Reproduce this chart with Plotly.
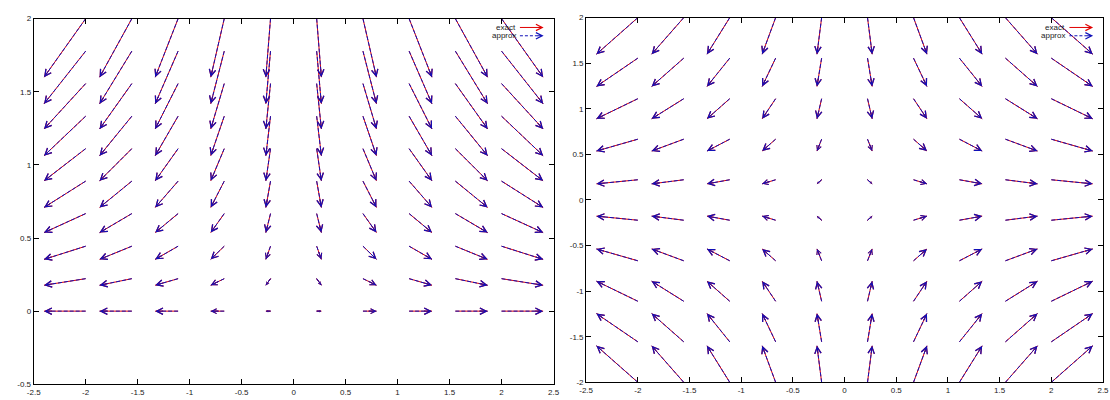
import math
import plotly.graph_objects as go

W, H = 1110, 400

# ---- data ----
x_cols = [-2.0, -1.556, -1.111, -0.667, -0.222, 0.222, 0.667, 1.111, 1.556, 2.0]
left_y_rows = [0.0, 0.222, 0.444, 0.667, 0.889, 1.111, 1.333, 1.556, 1.778, 2.0]
right_y_rows = [-2.0, -1.556, -1.111, -0.667, -0.222, 0.222, 0.667, 1.111, 1.556, 2.0]

# horizontal component per column, vertical component per row
left_exact_dx = [-0.40, -0.31, -0.22, -0.13, -0.045, 0.045, 0.13, 0.22, 0.31, 0.40]
left_exact_dy = [0.0, -0.045, -0.09, -0.13, -0.18, -0.22, -0.27, -0.31, -0.36, -0.40]
left_approx_dx = [-0.40, -0.31, -0.22, -0.13, -0.045, 0.045, 0.13, 0.22, 0.31, 0.40]
left_approx_dy = [0.0, -0.045, -0.09, -0.13, -0.18, -0.22, -0.27, -0.31, -0.36, -0.40]

right_exact_dx = [-0.40, -0.31, -0.22, -0.13, -0.045, 0.045, 0.13, 0.22, 0.31, 0.40]
right_exact_dy = [0.40, 0.31, 0.22, 0.13, 0.045, -0.045, -0.13, -0.22, -0.31, -0.40]
right_approx_dx = [-0.40, -0.31, -0.22, -0.13, -0.045, 0.045, 0.13, 0.22, 0.31, 0.40]
right_approx_dy = [0.40, 0.31, 0.22, 0.13, 0.045, -0.045, -0.13, -0.22, -0.31, -0.40]

x_ticks = [-2.5, -2, -1.5, -1, -0.5, 0, 0.5, 1, 1.5, 2, 2.5]
x_ticktext = ["-2.5", "-2", "-1.5", "-1", "-0.5", "0", "0.5", "1", "1.5", "2", "2.5"]
left_y_ticks = [-0.5, 0, 0.5, 1, 1.5, 2]
left_y_ticktext = ["-0.5", "0", "0.5", "1", "1.5", "2"]
right_y_ticks = [-2, -1.5, -1, -0.5, 0, 0.5, 1, 1.5, 2]
right_y_ticktext = ["-2", "-1.5", "-1", "-0.5", "0", "0.5", "1", "1.5", "2"]

series_names = ["exact", "approx"]

RED = "#e00000"
BLUE = "#1010b8"
FONT = "Liberation Sans"

# layout (pixels) of the two panels
LEFT_X_DOM = (27, 553)
LEFT_Y_DOM = (11, 385)
LEFT_XR, LEFT_YR = (-2.5, 2.5), (-0.5, 2)
RIGHT_X_DOM = (586, 1109)
RIGHT_Y_DOM = (13, 386)
RIGHT_XR, RIGHT_YR = (-2.5, 2.5), (-2, 2)

HEAD_SIZE = 1.25

fig = go.Figure()
annotations = []


def head(x, y, ax, ay, xref, yref, color, axref=None, ayref=None, size=HEAD_SIZE):
    d = dict(
        x=x, y=y, ax=ax, ay=ay, xref=xref, yref=yref,
        text="", showarrow=True, arrowhead=5, arrowsize=size,
        arrowwidth=1, arrowcolor=color, borderpad=0, borderwidth=0,
        font=dict(size=1), standoff=0, startstandoff=0,
    )
    if axref:
        d["axref"] = axref
        d["ayref"] = ayref
    return d


def add_field(xs, ys, dxs, dys, xa, ya, color, dash, xdom, ydom, xr, yr):
    px_x = (xdom[1] - xdom[0]) / (xr[1] - xr[0])
    px_y = (ydom[1] - ydom[0]) / (yr[1] - yr[0])
    sx, sy = [], []
    for i, x0 in enumerate(xs):
        for j, y0 in enumerate(ys):
            sx += [x0, x0 + dxs[i], None]
            sy += [y0, y0 + dys[j], None]
    fig.add_trace(go.Scatter(
        x=sx, y=sy, mode="lines",
        line=dict(color=color, width=1, dash=dash),
        xaxis=xa, yaxis=ya, hoverinfo="skip", showlegend=False,
    ))
    for i, x0 in enumerate(xs):
        for j, y0 in enumerate(ys):
            length = math.hypot(dxs[i] * px_x, dys[j] * px_y)
            f = 0.0 if length < 12 else 1 - 8 / length
            size = HEAD_SIZE * max(0.3, min(1.0, length / 18))
            annotations.append(head(
                x0 + dxs[i], y0 + dys[j],
                x0 + f * dxs[i], y0 + f * dys[j],
                xa, ya, color, axref=xa, ayref=ya, size=size,
            ))


add_field(x_cols, left_y_rows, left_exact_dx, left_exact_dy, "x", "y", RED, "solid",
          LEFT_X_DOM, LEFT_Y_DOM, LEFT_XR, LEFT_YR)
add_field(x_cols, right_y_rows, right_exact_dx, right_exact_dy, "x2", "y2", RED, "solid",
          RIGHT_X_DOM, RIGHT_Y_DOM, RIGHT_XR, RIGHT_YR)
add_field(x_cols, left_y_rows, left_approx_dx, left_approx_dy, "x", "y", BLUE, "4px,2px",
          LEFT_X_DOM, LEFT_Y_DOM, LEFT_XR, LEFT_YR)
add_field(x_cols, right_y_rows, right_approx_dx, right_approx_dy, "x2", "y2", BLUE, "4px,2px",
          RIGHT_X_DOM, RIGHT_Y_DOM, RIGHT_XR, RIGHT_YR)

# ---- legends (one per panel) ----
shapes = []
for right_edge in (553, 1109):
    text_x = (right_edge - 36) / W
    a0 = (right_edge - 34) / W
    a1 = (right_edge - 10) / W
    for k, name in enumerate(series_names):
        yp = 1 - (24 + 8.5 * k) / H
        annotations.append(dict(
            x=text_x, y=yp, xref="paper", yref="paper", text=name,
            showarrow=False, xanchor="right", yanchor="middle",
            font=dict(family=FONT, size=8, color="#222"),
        ))
        color = RED if k == 0 else BLUE
        shapes.append(dict(type="line", xref="paper", yref="paper",
                           x0=a0, x1=a1 - 3 / W, y0=yp, y1=yp,
                           line=dict(color=color, width=1,
                                     dash="solid" if k == 0 else "3px,2px")))
        annotations.append(head(a1, yp, -6, 0, "paper", "paper", color))

axis_common = dict(
    showline=True, linecolor="#000", linewidth=1, mirror="ticks",
    ticks="inside", ticklen=5, tickcolor="#000", tickwidth=1,
    showgrid=False, zeroline=False,
    tickfont=dict(family=FONT, size=8, color="#222"),
)

fig.update_layout(
    width=W, height=H,
    margin=dict(l=0, r=0, t=0, b=0),
    paper_bgcolor="white", plot_bgcolor="white",
    showlegend=False,
    xaxis=dict(domain=[LEFT_X_DOM[0] / W, LEFT_X_DOM[1] / W], range=list(LEFT_XR), anchor="y",
               tickvals=x_ticks, ticktext=x_ticktext, **axis_common),
    yaxis=dict(domain=[LEFT_Y_DOM[0] / H, LEFT_Y_DOM[1] / H], range=list(LEFT_YR), anchor="x",
               tickvals=left_y_ticks, ticktext=left_y_ticktext, **axis_common),
    xaxis2=dict(domain=[RIGHT_X_DOM[0] / W, RIGHT_X_DOM[1] / W], range=list(RIGHT_XR), anchor="y2",
                tickvals=x_ticks, ticktext=x_ticktext, **axis_common),
    yaxis2=dict(domain=[RIGHT_Y_DOM[0] / H, RIGHT_Y_DOM[1] / H], range=list(RIGHT_YR), anchor="x2",
                tickvals=right_y_ticks, ticktext=right_y_ticktext, **axis_common),
    annotations=annotations,
    shapes=shapes,
)

fig.write_html("out.html")
